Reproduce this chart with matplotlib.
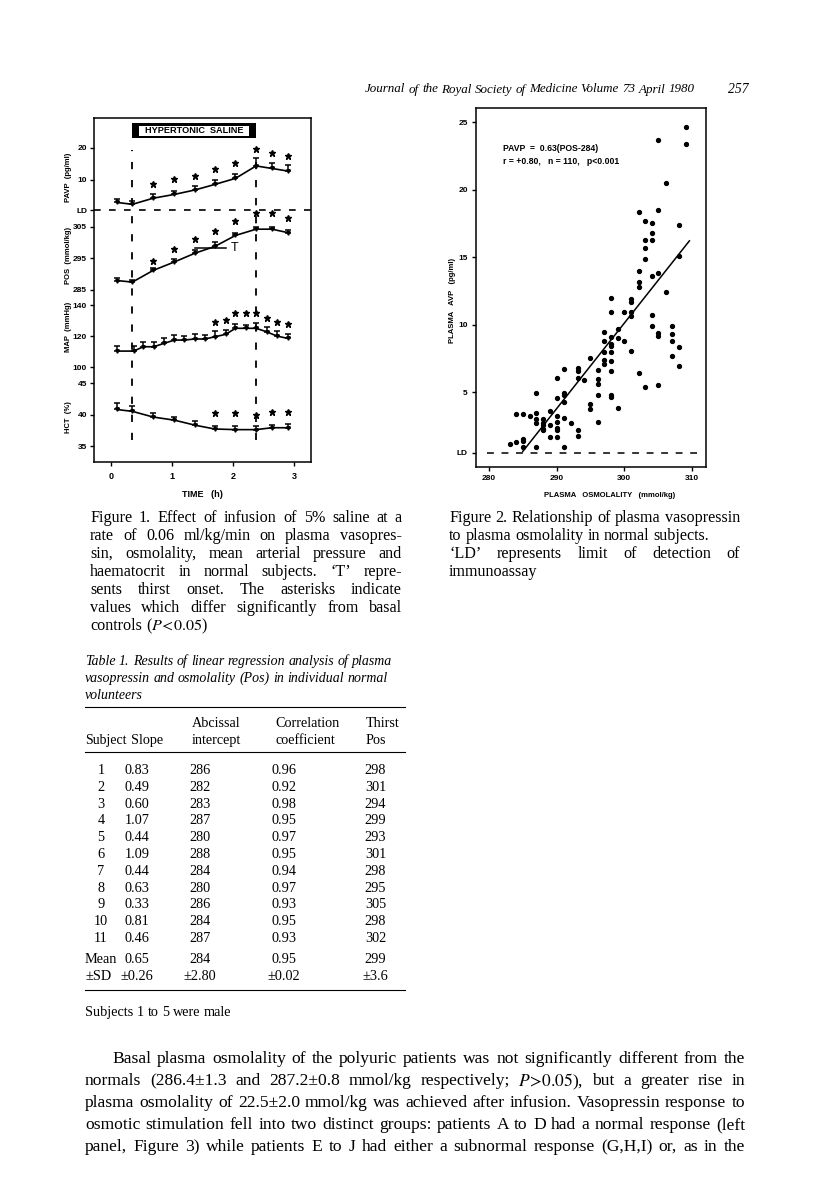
import matplotlib
matplotlib.use('Agg')
import matplotlib.pyplot as plt
import matplotlib.transforms as mtransforms
from matplotlib.patches import Rectangle
from matplotlib.lines import Line2D

plt.rcParams['mathtext.fontset'] = 'stix'

W, H = 816, 1180
SERIF = 'Liberation Serif'
SANS = 'Liberation Sans'

# ---------------- Figure 1 data (time in h) ----------------
time_ticks = [0, 1, 2, 3]
infusion = [0.35, 2.38]
t_main = [0.09, 0.35, 0.69, 1.04, 1.38, 1.70, 2.04, 2.38, 2.64, 2.90]

pavp = [3.0, 2.4, 4.3, 5.5, 6.9, 8.6, 10.5, 14.4, 13.6, 12.8]
pavp_se = [1.0, 1.0, 1.2, 1.2, 1.2, 1.5, 1.5, 2.6, 1.8, 1.8]
pavp_star_t = [0.69, 1.04, 1.38, 1.70, 2.04, 2.38, 2.64, 2.90]
pavp_star = [8.75, 10.3, 11.25, 13.4, 15.3, 19.7, 18.4, 17.5]
pavp_ld = 0.5

pos = [288.0, 287.5, 291.2, 293.9, 296.7, 298.8, 302.3, 304.3, 304.3, 303.2]
pos_se = [0.7, 0.7, 0.8, 0.8, 0.9, 1.4, 0.9, 0.7, 0.6, 0.7]
pos_star_t = [0.69, 1.04, 1.38, 1.70, 2.04, 2.38, 2.64, 2.90]
pos_star = [294.2, 298.0, 301.2, 303.8, 306.9, 309.3, 309.4, 307.9]
thirst_t = [1.38, 1.88]
thirst_pos = 298.2

t_map = [0.10, 0.37, 0.53, 0.70, 0.87, 1.04, 1.20, 1.37, 1.54, 1.70,
         1.88, 2.04, 2.21, 2.38, 2.55, 2.72, 2.90]
mapr = [110.3, 110.3, 113.1, 113.1, 115.3, 117.4, 117.4, 118.1, 118.1, 119.5,
        121.1, 125.0, 125.0, 125.0, 122.8, 120.0, 118.5]
map_se = [3.3, 3.3, 3.3, 3.0, 3.3, 3.3, 2.6, 3.0, 2.6, 3.5,
          3.0, 3.0, 2.3, 3.5, 3.0, 3.0, 3.0]
map_star_t = [1.70, 1.88, 2.04, 2.21, 2.38, 2.55, 2.72, 2.90]
map_star = [129.2, 130.3, 135.0, 134.6, 134.6, 131.8, 129.2, 127.7]

hct = [40.8, 40.5, 39.6, 39.1, 38.3, 37.7, 37.6, 37.6, 37.9, 37.9]
hct_se = [1.1, 0.9, 0.7, 0.5, 0.6, 0.5, 0.6, 0.6, 0.5, 0.6]
hct_star_t = [1.70, 2.04, 2.38, 2.64, 2.90]
hct_star = [40.2, 40.2, 40.0, 40.4, 40.4]

# ---------------- Figure 2 data ----------------
osm = [309.1, 309.1, 305.0, 306.1, 302.1, 305.0, 303.1, 304.05, 308.0, 304.05,
       303.1, 304.05, 303.1, 303.1, 308.0,
       302.1, 302.1, 302.1, 304.05, 305.0, 306.1, 298.0, 301.0, 301.0, 298.0,
       300.0, 301.0, 301.0, 304.05, 304.05, 307.0, 299.1, 297.0, 305.0, 305.0,
       307.0, 297.0, 298.0, 299.1, 300.0, 307.0, 298.0, 298.0, 301.0, 297.0,
       298.0, 308.0, 295.0, 307.0, 297.0, 297.0, 298.0, 308.0, 291.1, 293.1,
       293.1, 298.0, 302.1, 296.05, 290.1, 293.1, 294.1, 296.05, 296.05, 303.1,
       305.0, 287.0, 291.1, 291.1, 296.05, 298.0, 298.0, 290.1, 291.1, 299.1,
       295.0, 295.0, 296.05, 284.05, 285.0, 286.0, 287.0, 287.0, 287.0, 288.0,
       288.0, 288.0, 288.0, 289.0, 289.0, 289.0, 290.0, 290.0, 290.0, 290.0,
       290.0, 291.1, 292.05, 293.1, 293.1, 291.1, 287.0, 285.0, 285.0, 284.05,
       283.06, 285.0, 288.0]
avp = [24.63, 23.4, 23.7, 20.5, 18.33, 18.5, 17.64, 17.54, 17.35, 16.75,
       16.23, 16.23, 15.7, 14.85, 15.07,
       13.99, 13.17, 12.78, 13.6, 13.8, 12.38, 12.0, 11.9, 11.67, 10.9,
       10.9, 10.9, 10.6, 10.7, 9.91, 9.91, 9.67, 9.42, 9.35, 9.12,
       9.3, 8.75, 9.05, 9.0, 8.75, 8.8, 8.56, 8.38, 8.04, 7.96,
       7.94, 8.31, 7.52, 7.64, 7.4, 7.1, 7.32, 6.93, 6.73, 6.78,
       6.53, 6.53, 6.41, 6.63, 6.04, 6.04, 5.91, 5.94, 5.62, 5.35,
       5.54, 4.93, 4.93, 4.8, 4.8, 4.8, 4.6, 4.55, 4.23, 3.84,
       4.09, 3.77, 2.79, 3.4, 3.4, 3.23, 3.48, 3.03, 2.71, 2.98,
       2.71, 2.54, 2.30, 3.6, 2.59, 1.68, 3.21, 2.79, 2.37, 2.22,
       1.68, 3.1, 2.71, 2.17, 1.76, 0.9, 0.9, 1.56, 1.39, 1.27,
       1.12, 0.9, 2.17]
reg_x = [285.0, 309.6]
reg_y = [0.6, 16.2]
avp_ld = 0.5
osm_ticks = [280, 290, 300, 310]
avp_ticks = [avp_ld, 5, 10, 15, 20, 25]
avp_labels = ['LD', '5', '10', '15', '20', '25']

# ---------------- Table 1 data ----------------
subjects = list(range(1, 12))
slope = [0.83, 0.49, 0.60, 1.07, 0.44, 1.09, 0.44, 0.63, 0.33, 0.81, 0.46]
intercept = [286, 282, 283, 287, 280, 288, 284, 280, 286, 284, 287]
corr = [0.96, 0.92, 0.98, 0.95, 0.97, 0.95, 0.94, 0.97, 0.93, 0.95, 0.93]
thirst = [298, 301, 294, 299, 293, 301, 298, 295, 305, 298, 302]
mean_row = ['Mean', '0.65', '284', '0.95', '299']
sd_row = ['\u00b1SD', '\u00b10.26', '\u00b12.80', '\u00b10.02', '\u00b13.6']

fig = plt.figure(figsize=(W / 100, H / 100), dpi=100)


def px_axes(x0, y0, x1, y1):
    return fig.add_axes([x0 / W, 1 - y1 / H, (x1 - x0) / W, (y1 - y0) / H])


def text_line(text, x0, y, size, x1=None, style='normal'):
    words = text.split(' ')
    objs = [fig.text(0, 1 - y / H, w, fontsize=size, family=SERIF, style=style,
                     va='center_baseline') for w in words]
    r = fig.canvas.get_renderer()
    widths = [o.get_window_extent(r).width for o in objs]
    gap = size * 100 / 72 * 0.25
    if x1 is not None and len(words) > 1:
        gap = max((x1 - x0 - sum(widths)) / (len(words) - 1), 1.5)
    x = x0
    for o, w in zip(objs, widths):
        o.set_x(x / W)
        x += w + gap


def hrule(x0, x1, y, lw=0.8):
    fig.add_artist(Line2D([x0 / W, x1 / W], [1 - y / H] * 2, transform=fig.transFigure,
                          color='k', lw=lw))


# ---------------- Figure 1 ----------------
ax1 = px_axes(94, 118, 311, 462)
ax1.set_xlim(-0.28, 3.28)
ax1.set_ylim(0, 1)
ax1.set_yticks([])
ax1.set_xticks(time_ticks)
ax1.set_xticklabels([str(t) for t in time_ticks], family=SANS, weight='bold')
ax1.tick_params(axis='x', direction='out', length=3, width=1, labelsize=6.5, pad=4)
ax1.set_xlabel('TIME   (h)', fontsize=6.5, family=SANS, weight='bold', labelpad=7)
for s in ax1.spines.values():
    s.set_linewidth(1.1)
for t in infusion:
    ax1.axvline(t, ymin=0.064, ymax=0.907, color='k', lw=1.3, ls=(0, (4, 6)))

trans = mtransforms.blended_transform_factory(ax1.transData, ax1.transAxes)
ax1.add_patch(Rectangle((infusion[0], 0.942), infusion[1] - infusion[0], 0.043,
                        transform=trans, fc='k', ec='none', clip_on=False))
ax1.add_patch(Rectangle((infusion[0] + 0.11, 0.949), infusion[1] - infusion[0] - 0.22, 0.029,
                        transform=trans, fc='white', ec='none', clip_on=False))
ax1.text(sum(infusion) / 2, 0.9635, 'HYPERTONIC  SALINE', transform=trans,
         ha='center', va='center', fontsize=6.6, family=SANS, weight='bold')


def panel(y0, y1, ylim, ticks, labels, ylabel, label_y=0.5):
    ax = px_axes(94, y0, 311, y1)
    ax.set_xlim(ax1.get_xlim())
    ax.set_ylim(*ylim)
    ax.patch.set_visible(False)
    for s in ax.spines.values():
        s.set_visible(False)
    ax.set_xticks([])
    ax.set_yticks(ticks)
    ax.set_yticklabels(labels, family=SANS, weight='bold')
    ax.tick_params(axis='y', direction='out', length=3, width=1, labelsize=6, pad=2)
    ax.set_ylabel(ylabel, fontsize=5.5, family=SANS, weight='bold')
    ax.yaxis.set_label_coords(-0.10, label_y)
    return ax


def series(ax, t, v, se):
    ax.errorbar(t, v, yerr=[[0] * len(se), se], color='k', lw=1.2, elinewidth=1.1,
                capsize=2.5, capthick=1.1, marker='v', ms=2.5, clip_on=False)


def stars(ax, t, v):
    ax.plot(t, v, ls='none', marker='*', ms=4.5, color='k', clip_on=False)


ax_p = panel(140, 215, (-0.94, 22.5), [pavp_ld, 10, 20], ['LD', '10', '20'], 'PAVP  (pg/ml)')
ax_p.axhline(pavp_ld, color='k', lw=1.2, ls=(0, (4, 5)))
series(ax_p, t_main, pavp, pavp_se)
stars(ax_p, pavp_star_t, pavp_star)

ax_o = panel(215, 295, (283.4, 308.8), [285, 295, 305], ['285', '295', '305'], 'POS  (mmol/kg)')
series(ax_o, t_main, pos, pos_se)
stars(ax_o, pos_star_t, pos_star)
ax_o.plot(thirst_t, [thirst_pos] * 2, color='k', lw=1.1)
ax_o.text(thirst_t[1] + 0.08, thirst_pos, 'T', fontsize=9, family=SANS,
          ha='left', va='center')

ax_m = panel(295, 372, (96.8, 146.5), [100, 120, 140], ['100', '120', '140'], 'MAP  (mmHg)',
             label_y=0.58)
series(ax_m, t_map, mapr, map_se)
stars(ax_m, map_star_t, map_star)

ax_h = panel(372, 462, (32.46, 46.75), [35, 40, 45], ['35', '40', '45'], 'HCT  (%)')
series(ax_h, t_main, hct, hct_se)
stars(ax_h, hct_star_t, hct_star)

# ---------------- Figure 2 ----------------
ax2 = px_axes(476, 108, 706, 467)
ax2.set_xlim(278.1, 312.05)
ax2.set_ylim(-0.55, 26.04)
ax2.plot(osm, avp, 'o', ms=2.8, color='k')
ax2.plot(reg_x, reg_y, color='k', lw=1.1)
ax2.axhline(avp_ld, xmin=0.048, xmax=0.96, color='k', lw=1.1, ls=(0, (4.5, 5)))
ax2.set_xticks(osm_ticks)
ax2.set_xticklabels([str(v) for v in osm_ticks], family=SANS, weight='bold')
ax2.set_yticks(avp_ticks)
ax2.set_yticklabels(avp_labels, family=SANS, weight='bold')
ax2.tick_params(direction='out', length=3, width=1, labelsize=6, pad=3)
for s in ax2.spines.values():
    s.set_linewidth(1.1)
ax2.set_xlabel('PLASMA   OSMOLALITY   (mmol/kg)', fontsize=5.5, family=SANS, weight='bold')
ax2.xaxis.set_label_coords(0.583, -0.07)
ax2.set_ylabel('PLASMA   AVP   (pg/ml)', fontsize=5.5, family=SANS, weight='bold')
ax2.yaxis.set_label_coords(-0.087, 0.465)
ax2.text(0.117, 0.886, 'PAVP  =  0.63(POS-284)', transform=ax2.transAxes, fontsize=6.2,
         family=SANS, weight='bold', va='center')
ax2.text(0.117, 0.85, 'r = +0.80,   n = 110,   p<0.001', transform=ax2.transAxes,
         fontsize=6.2, family=SANS, weight='bold', va='center')

# ---------------- page text ----------------
text_line('Journal of the Royal Society of Medicine Volume 73 April 1980', 365, 88, 9.4,
          style='italic')
text_line('257', 728, 88, 9.8, style='italic')

cap1 = ['Figure 1. Effect of infusion of 5% saline at a',
        'rate of 0.06 ml/kg/min on plasma vasopres-',
        'sin, osmolality, mean arterial pressure and',
        'haematocrit in normal subjects. \u2018T\u2019 repre-',
        'sents thirst onset. The asterisks indicate',
        'values which differ significantly from basal',
        'controls ($P\\!<\\!0.05$)']
for i, s in enumerate(cap1):
    text_line(s, 90, 516 + 18 * i, 11.6, x1=None if i == len(cap1) - 1 else 402)

cap2 = ['Figure 2. Relationship of plasma vasopressin',
        'to plasma osmolality in normal subjects.',
        '\u2018LD\u2019 represents limit of detection of',
        'immunoassay']
for i, s in enumerate(cap2):
    text_line(s, 449, 516 + 18 * i, 11.6, x1=740 if i in (0, 2) else None)

tcap = ['Table 1. Results of linear regression analysis of plasma',
        'vasopressin and osmolality (Pos) in individual normal',
        'volunteers']
for i, s in enumerate(tcap):
    text_line(s, 85, 660 + 17 * i, 10, style='italic')

# table
hrule(85, 405, 707)
hrule(85, 405, 752)
hrule(85, 405, 990)
heads = [(192, 'Abcissal', 'intercept'), (275, 'Correlation', 'coefficient'),
         (366, 'Thirst', 'Pos')]
for x, a, b in heads:
    text_line(a, x, 722, 10.2)
    text_line(b, x, 739, 10.2)
text_line('Subject', 85, 739, 10)
text_line('Slope', 131, 739, 10.2)

col_x = [101, 137, 200, 284, 375.5]
for i in range(len(subjects)):
    y = 1 - (769 + 16.8 * i) / H
    row = [str(subjects[i]), f'{slope[i]:.2f}', str(intercept[i]), f'{corr[i]:.2f}',
           str(thirst[i])]
    for x, v in zip(col_x, row):
        fig.text(x / W, y, v, fontsize=10.3, family=SERIF, ha='center', va='center_baseline')
for yy, row in ((958, mean_row), (975, sd_row)):
    fig.text(85 / W, 1 - yy / H, row[0], fontsize=10.3, family=SERIF, va='center_baseline')
    for x, v in zip(col_x[1:], row[1:]):
        fig.text(x / W, 1 - yy / H, v, fontsize=10.3, family=SERIF, ha='center',
                 va='center_baseline')

text_line('Subjects 1 to 5 were male', 85, 1011, 10.3)

body = ['Basal plasma osmolality of the polyuric patients was not significantly different from the',
        'normals (286.4\u00b11.3 and 287.2\u00b10.8 mmol/kg respectively; $P\\!>\\!0.05$), but a greater rise in',
        'plasma osmolality of 22.5\u00b12.0 mmol/kg was achieved after infusion. Vasopressin response to',
        'osmotic stimulation fell into two distinct groups: patients A to D had a normal response (left',
        'panel, Figure 3) while patients E to J had either a subnormal response (G,H,I) or, as in the']
for i, s in enumerate(body):
    text_line(s, 112 if i == 0 else 85, 1057 + 22 * i, 12.6, x1=745)

fig.savefig('out.png', dpi=100)
